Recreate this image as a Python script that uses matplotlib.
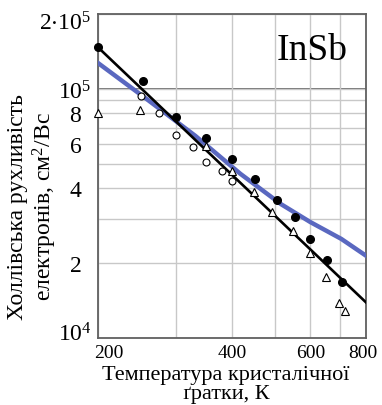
import matplotlib
matplotlib.use("Agg")
import matplotlib.pyplot as plt
from matplotlib.ticker import NullFormatter
from matplotlib.transforms import ScaledTranslation

plt.rcParams['font.family'] = ['Liberation Serif', 'DejaVu Serif']
plt.rcParams['mathtext.fontset'] = 'custom'
plt.rcParams['mathtext.rm'] = 'Liberation Serif'
plt.rcParams['mathtext.default'] = 'regular'

# Експериментальні точки (T, К ; рухливість, см^2/Вс)
t_filled = [200, 252, 300, 349, 401, 451, 504, 555, 600, 654, 706]
mu_filled = [1.47e5, 1.077e5, 7.74e4, 6.34e4, 5.24e4, 4.34e4, 3.58e4, 3.07e4, 2.49e4, 2.06e4, 1.68e4]

t_open = [250, 274, 300, 327, 349, 379, 399]
mu_open = [9.4e4, 7.99e4, 6.53e4, 5.83e4, 5.09e4, 4.70e4, 4.27e4]

t_tri = [200, 249, 350, 399, 449, 493, 547, 599, 651, 695, 716]
mu_tri = [8.0e4, 8.24e4, 5.92e4, 4.70e4, 3.85e4, 3.22e4, 2.68e4, 2.19e4, 1.76e4, 1.38e4, 1.28e4]

# Апроксимація (чорна пряма) та розрахунок (синя крива)
t_fit = [200, 800]
mu_fit = [1.47e5, 1.39e4]

t_calc = [199, 257, 331, 418, 515, 600, 704, 800]
mu_calc = [1.28e5, 9.12e4, 6.48e4, 4.56e4, 3.45e4, 2.92e4, 2.50e4, 2.14e4]

x_ticks = [200, 400, 600, 800]
x_minor = [300, 500, 700]
y_ticks = [1e4, 2e4, 4e4, 6e4, 8e4, 1e5, 2e5]
y_labels = [r'$10^4$', '2', '4', '6', '8', r'$10^5$', r'$2{\cdot}10^5$']
y_minor = [3e4, 5e4, 7e4, 9e4]

fig = plt.figure(figsize=(3.82, 4.06), dpi=100)
ax = fig.add_axes([98 / 382, 1 - 339 / 406, 268 / 382, 324 / 406])

ax.set_xscale('log')
ax.set_yscale('log')
ax.set_xlim(200, 800)
ax.set_ylim(1e4, 2e5)

ax.set_xticks(x_ticks)
ax.set_xticklabels([str(v) for v in x_ticks])
ax.set_xticks(x_minor, minor=True)
ax.set_yticks(y_ticks)
ax.set_yticklabels(y_labels)
ax.set_yticks(y_minor, minor=True)
ax.xaxis.set_minor_formatter(NullFormatter())
ax.yaxis.set_minor_formatter(NullFormatter())
ax.tick_params(which='both', length=0)
ax.tick_params(axis='x', labelsize=14, pad=4)
ax.tick_params(axis='y', labelsize=17, pad=12)

ax.grid(True, which='both', color='#c8c8c8', lw=1.0)
ax.axhline(1e5, color='#555555', lw=1.2, zorder=1.5)
for s in ax.spines.values():
    s.set_color('#606060')
    s.set_linewidth(1.3)

# зсуви окремих підписів, як на оригіналі
dpi_tr = fig.dpi_scale_trans
xl = ax.get_xticklabels()
xl[0].set_transform(xl[0].get_transform() + ScaledTranslation(11 / 100, 0, dpi_tr))
xl[-1].set_transform(xl[-1].get_transform() + ScaledTranslation(-3 / 100, 0, dpi_tr))
yl = ax.get_yticklabels()
for lab in yl:
    if '10' in lab.get_text():
        lab.set_transform(lab.get_transform() + ScaledTranslation(10 / 100, 0, dpi_tr))
yl[0].set_transform(yl[0].get_transform() + ScaledTranslation(0, 7 / 100, dpi_tr))
yl[-1].set_transform(yl[-1].get_transform() + ScaledTranslation(0, -6 / 100, dpi_tr))

ax.plot(t_calc, mu_calc, color='#5a68c0', lw=3.2, zorder=3)
ax.plot(t_fit, mu_fit, color='black', lw=1.9, zorder=4)
ax.plot(t_open, mu_open, 'o', ms=5, mfc='white', mec='black', mew=0.8, zorder=5, clip_on=False)
ax.plot(t_tri, mu_tri, '^', ms=6, mfc='white', mec='black', mew=0.8, zorder=5, clip_on=False)
ax.plot(t_filled, mu_filled, 'o', ms=5.5, color='black', zorder=6, clip_on=False)

ax.text(0.665, 0.86, 'InSb', transform=ax.transAxes, fontsize=27, ha='left', va='baseline')

fig.text(33 / 382, 1 - 207 / 406, 'Холлівська рухливість\nелектронів, см$^2$/Вс',
         rotation=90, fontsize=17, ha='center', va='center', multialignment='center',
         linespacing=1.1)
fig.text(226 / 382, 1 - 385 / 406, 'Температура кристалічної\nґратки, К',
         fontsize=16, ha='center', va='center', multialignment='center', linespacing=1.05)

fig.savefig('out.png', dpi=100, facecolor='white')
